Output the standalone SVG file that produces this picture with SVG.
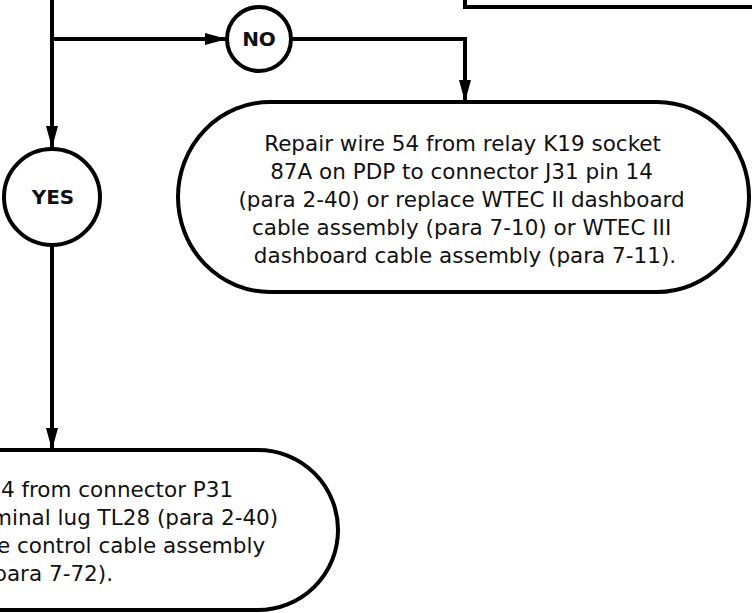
<svg xmlns="http://www.w3.org/2000/svg" width="752" height="613" viewBox="0 0 752 613">
<style>
.ln{fill:none;stroke:#000;stroke-width:4}
.sh{fill:#fff;stroke:#000;stroke-width:4}
.lbl{font-family:"DejaVu Sans",sans-serif;font-weight:bold;font-size:20px;fill:#111}
.txt{font-family:"DejaVu Sans",sans-serif;font-size:21.5px;fill:#111}
</style>
<defs>
<marker id="ah" markerWidth="22" markerHeight="12" refX="22" refY="6" orient="auto" markerUnits="userSpaceOnUse">
<path d="M0,0 L22,6 L0,12 Z" fill="#000"/>
</marker>
</defs>
<g id="top-box">
<path class="ln" d="M465,0 V7 H752"/>
</g>
<g id="connectors">
<path class="ln" d="M52,0 V148" marker-end="url(#ah)"/>
<path class="ln" d="M52,39 H227" marker-end="url(#ah)"/>
<path class="ln" d="M291,39 H465 V102" marker-end="url(#ah)"/>
<path class="ln" d="M52,246 V450" marker-end="url(#ah)"/>
</g>
<g id="no">
<circle class="sh" cx="259" cy="39" r="32"/>
<text class="lbl" x="259" y="46" text-anchor="middle">NO</text>
</g>
<g id="yes">
<circle class="sh" cx="52" cy="197" r="48"/>
<text class="lbl" x="53" y="204" text-anchor="middle">YES</text>
</g>
<g id="repair-wire-54-pdp">
<rect class="sh" x="178" y="102" width="571" height="190" rx="92" ry="95"/>
<text class="txt" text-anchor="middle">
<tspan x="466" y="150.7">Repair wire 54 from relay K19 socket</tspan>
<tspan x="465" y="178.8">87A on PDP to connector J31 pin 14</tspan>
<tspan x="465" y="206.9">(para 2-40) or replace WTEC II dashboard</tspan>
<tspan x="465" y="235">cable assembly (para 7-10) or WTEC III</tspan>
<tspan x="465" y="263.1">dashboard cable assembly (para 7-11).</tspan>
</text>
</g>
<g id="repair-wire-54-p31">
<rect class="sh" x="-200" y="450" width="538" height="160" rx="80" ry="80"/>
<text class="txt" text-anchor="end">
<tspan x="240" y="497">4 from connector P31</tspan>
<tspan x="285" y="525">minal lug TL28 (para 2-40)</tspan>
<tspan x="272" y="553">he control cable assembly</tspan>
<tspan x="113" y="581">para 7-72).</tspan>
</text>
</g>
</svg>
